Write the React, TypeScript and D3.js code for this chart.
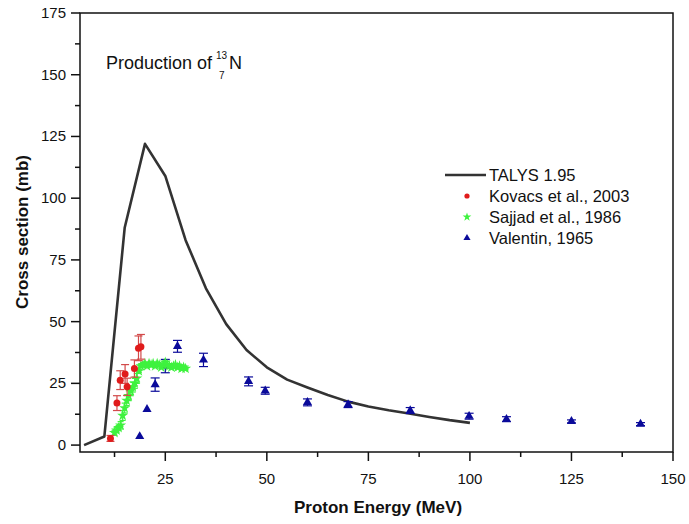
import React from "react";
import * as d3 from "d3";

// TALYS 1.95 calculation
const talysE = [5, 10, 15, 20, 25, 30, 35, 40, 45, 50, 55, 60, 65, 70, 75, 80, 85, 90, 95, 100];
const talysS = [0, 3.5, 88, 122, 109, 83, 63.5, 49, 38.5, 31.5, 26.5, 23.3, 20.3, 17.6, 15.6, 14.1, 12.8, 11.4, 10.1, 9];

// Kovacs et al., 2003
const kovE = [11.5, 13.1, 13.9, 15.1, 15.6, 17.4, 18.4, 19.0];
const kovS = [2.7, 17, 26.3, 28.8, 23.6, 31, 39.2, 39.8];
const kovErr = [1.2, 3, 3.8, 3.8, 3.5, 3.5, 5, 5];

// Sajjad et al., 1986
const sajE = [12.5, 13.0, 13.5, 14.0, 14.5, 15.0, 15.5, 16.0, 16.5, 17.0, 17.5, 18.0, 18.5, 19.0, 19.5, 20.0, 20.5, 21.0, 21.5, 22.0, 22.5, 23.0, 23.5, 24.0, 24.5, 25.0, 25.5, 26.0, 26.5, 27.0, 27.5, 28.0, 28.5, 29.0, 29.5, 30.0];
const sajS = [5, 6, 7, 8, 12, 15, 18, 20, 22, 23.5, 25, 27, 30, 32, 32.5, 33, 32, 33, 32.5, 33, 32, 33, 32.5, 31.5, 32.5, 33.5, 32.5, 32, 31.5, 32, 32.5, 31.5, 32, 31, 31.5, 31];
const sajErr = [1, 1, 1, 1.5, 2, 2, 2, 2, 2, 2, 2, 2, 0.5, 0.5, 0.5, 0.5, 0.5, 0.5, 0.5, 0.5, 0.5, 0.5, 0.5, 0.5, 0.5, 0.5, 0.5, 0.5, 0.5, 0.5, 0.5, 0.5, 0.5, 0.5, 0.5, 0.5];

// Valentin, 1965
const valE = [18.7, 20.5, 22.5, 25, 28, 34.4, 45.5, 49.6, 60, 70, 85.3, 99.8, 109, 125, 142];
const valS = [3.5, 14.5, 24.5, 32, 40, 34.5, 25.8, 22, 17.3, 16.4, 14, 11.7, 10.5, 9.6, 8.5];
const valErr = [0, 0, 2.7, 2.7, 2.4, 2.7, 1.8, 1.4, 1.4, 1.2, 1.2, 1.2, 1, 0.6, 0.6];

const xMajor = [25, 50, 75, 100, 125, 150];
const xMinor = [12.5, 37.5, 62.5, 87.5, 112.5, 137.5];
const yMajor = [0, 25, 50, 75, 100, 125, 150, 175];
const yMinor = [12.5, 37.5, 62.5, 87.5, 112.5, 137.5, 162.5];

const legendItems = ["TALYS 1.95", "Kovacs et al., 2003", "Sajjad et al., 1986", "Valentin, 1965"];

const FONT = "'Liberation Sans', Arial, sans-serif";
const RED = "#e01b1b";
const RED_ERR = "#d24a4a";
const GREEN = "#3ef23e";
const BLUE = "#0a0a9a";
const LINE = "#333333";

export default function App() {
  const x = d3.scaleLinear().domain([4, 150]).range([80, 673]);
  const y = d3.scaleLinear().domain([-2.8, 175]).range([452, 13]);

  const line = d3
    .line<number>()
    .x((_, i) => x(talysE[i]))
    .y((d) => y(d));

  const star = d3.symbol().type(d3.symbolStar).size(38)()!;
  const starSmall = d3.symbol().type(d3.symbolStar).size(24)()!;
  const tri = d3.symbol().type(d3.symbolTriangle).size(36)()!;
  const triSmall = d3.symbol().type(d3.symbolTriangle).size(22)()!;

  const errBar = (cx: number, s: number, e: number, color: string, cap: number, key: string) => {
    if (!e) return null;
    const yt = y(s + e);
    const yb = y(s - e);
    return (
      <g key={key} stroke={color} strokeWidth={1.2}>
        <line x1={cx} x2={cx} y1={yt} y2={yb} />
        <line x1={cx - cap} x2={cx + cap} y1={yt} y2={yt} />
        <line x1={cx - cap} x2={cx + cap} y1={yb} y2={yb} />
      </g>
    );
  };

  const lx = 467;
  const ly0 = 175;
  const ldy = 21;

  return (
    <svg
      width={689}
      height={524}
      style={{ position: "absolute", left: 0, top: 0, background: "#fff" }}
      fontFamily={FONT}
    >
      <rect x={0} y={0} width={689} height={524} fill="#fff" />

      {/* Title */}
      <text x={106} y={69} fontSize={18} fill="#111">
        Production of
      </text>
      <text x={216} y={59} fontSize={10} fill="#111">13</text>
      <text x={219} y={79} fontSize={10} fill="#111">7</text>
      <text x={229} y={69} fontSize={18} fill="#111">N</text>

      {/* TALYS line */}
      <path d={line(talysS) || ""} fill="none" stroke={LINE} strokeWidth={2.6} strokeLinejoin="round" />

      {/* Valentin */}
      {valE.map((e, i) => errBar(x(e), valS[i], valErr[i], BLUE, 4.5, "ve" + i))}
      {valE.map((e, i) => (
        <path key={"v" + i} d={tri} transform={`translate(${x(e)},${y(valS[i])})`} fill={BLUE} />
      ))}

      {/* Sajjad */}
      {sajE.map((e, i) => errBar(x(e), sajS[i], sajErr[i], GREEN, 3, "se" + i))}
      {sajE.map((e, i) => (
        <path key={"s" + i} d={star} transform={`translate(${x(e)},${y(sajS[i])})`} fill={GREEN} />
      ))}

      {/* Kovacs */}
      {kovE.map((e, i) => errBar(x(e), kovS[i], kovErr[i], RED_ERR, 4, "ke" + i))}
      {kovE.map((e, i) => (
        <circle key={"k" + i} cx={x(e)} cy={y(kovS[i])} r={3.5} fill={RED} />
      ))}

      {/* Axes box */}
      <rect x={80} y={13} width={593} height={439} fill="none" stroke="#111" strokeWidth={1.5} />

      {/* X ticks */}
      {xMajor.map((t) => (
        <g key={"xt" + t}>
          <line x1={x(t)} x2={x(t)} y1={452} y2={461} stroke="#111" strokeWidth={1.5} />
          <text x={x(t)} y={484} fontSize={15} textAnchor="middle" fill="#111">
            {t}
          </text>
        </g>
      ))}
      {xMinor.map((t) => (
        <line key={"xm" + t} x1={x(t)} x2={x(t)} y1={452} y2={457} stroke="#111" strokeWidth={1.5} />
      ))}

      {/* Y ticks */}
      {yMajor.map((t) => (
        <g key={"yt" + t}>
          <line x1={71} x2={80} y1={y(t)} y2={y(t)} stroke="#111" strokeWidth={1.5} />
          <text x={66} y={y(t) + 5} fontSize={15} textAnchor="end" fill="#111">
            {t}
          </text>
        </g>
      ))}
      {yMinor.map((t) => (
        <line key={"ym" + t} x1={75} x2={80} y1={y(t)} y2={y(t)} stroke="#111" strokeWidth={1.5} />
      ))}

      {/* Axis titles */}
      <text x={378} y={513} fontSize={17} fontWeight="bold" textAnchor="middle" fill="#111">
        Proton Energy (MeV)
      </text>
      <text
        transform={`translate(28,232) rotate(-90)`}
        fontSize={17}
        fontWeight="bold"
        textAnchor="middle"
        fill="#111"
      >
        Cross section (mb)
      </text>

      {/* Legend */}
      <line x1={445} x2={486} y1={ly0} y2={ly0} stroke={LINE} strokeWidth={2.6} />
      <circle cx={lx} cy={ly0 + ldy} r={2.6} fill={RED} />
      <path d={starSmall} transform={`translate(${lx},${ly0 + 2 * ldy})`} fill={GREEN} />
      <path d={triSmall} transform={`translate(${lx},${ly0 + 3 * ldy})`} fill={BLUE} />
      {legendItems.map((t, i) => (
        <text key={t} x={489} y={ly0 + i * ldy + 6} fontSize={16.5} fill="#111">
          {t}
        </text>
      ))}
    </svg>
  );
}
